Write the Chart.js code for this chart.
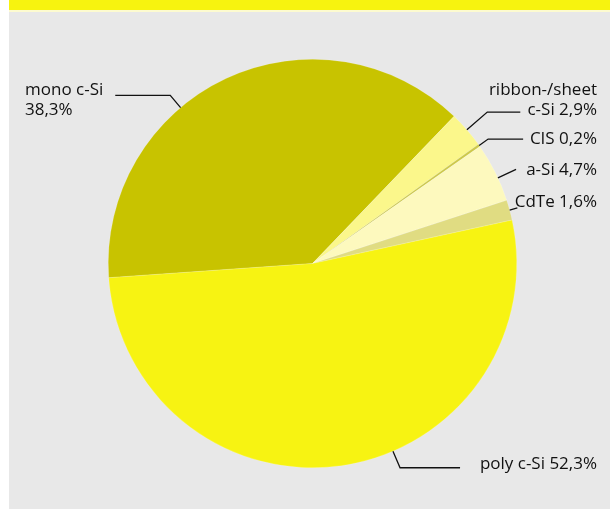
<!DOCTYPE html>
<html>
<head>
<meta charset="utf-8">
<script src="https://cdn.jsdelivr.net/npm/chart.js"></script>
<style>
  body { margin: 0; background: #ffffff; }
  #wrap { position: relative; width: 610px; height: 509px; overflow: hidden; }
  #band { position: absolute; left: 9px; top: 0; width: 601px; height: 10px; background: #f7f30f; }
  #stripe { position: absolute; left: 9px; top: 10px; width: 601px; height: 2px; background: #fdfbd0; }
  #panel { position: absolute; left: 9px; top: 12px; width: 601px; height: 497px; background: #e8e8e8; }
  #chart { position: absolute; left: 0; top: 0; }
</style>
</head>
<body>
<div id="wrap">
  <div id="band"></div>
  <div id="stripe"></div>
  <div id="panel"></div>
  <canvas id="chart" width="610" height="509"></canvas>
</div>
<script>
// Marktanteile Solarzellen-Technologien (Prozent)
const technologies = ["mono c-Si", "ribbon-/sheet c-Si", "CIS", "a-Si", "CdTe", "poly c-Si"];
const shares = [38.3, 2.9, 0.2, 4.7, 1.6, 52.3];
const shareLabels = ["38,3%", "2,9%", "0,2%", "4,7%", "1,6%", "52,3%"];
const sliceColors = ["#c8c300", "#fbf78b", "#cdc94a", "#fdf9be", "#e0dc82", "#f7f312"];

// label layout: text lines, anchor fraction along slice, radial leader length,
// horizontal leader length (signed), text x, first baseline, alignment
const labelLayout = [
  { lines: ["mono c-Si", "38,3%"], frac: 0.39, radial: 16, horiz: -55, x: 25, y: 95, align: "left" },
  { lines: ["ribbon-/sheet", "c-Si 2,9%"], frac: 0.5, radial: 27, horiz: 33, x: 597, y: 95, align: "right" },
  { lines: ["CIS 0,2%"], frac: 0.5, radial: 11, horiz: 35, x: 597, y: 144, align: "right" },
  { lines: ["a-Si 4,7%"], frac: 0.6, radial: 20, horiz: 0, x: 597, y: 175, align: "right" },
  { lines: ["CdTe 1,6%"], frac: 0.5, radial: 8, horiz: 0, x: 597, y: 207, align: "right" },
  { lines: ["poly c-Si 52,3%"], frac: 0.42, radial: 18, horiz: 60, x: 597, y: 469, align: "right" },
];

const leaderPlugin = {
  id: "leaders",
  afterDraw(chart) {
    const ctx = chart.ctx;
    const meta = chart.getDatasetMeta(0);
    ctx.save();
    meta.data.forEach((arc, i) => {
      const lay = labelLayout[i];
      const a = arc.startAngle + (arc.endAngle - arc.startAngle) * lay.frac;
      const r = arc.outerRadius;
      const x0 = arc.x + Math.cos(a) * r;
      const y0 = arc.y + Math.sin(a) * r;
      const x1 = arc.x + Math.cos(a) * (r + lay.radial);
      const y1 = arc.y + Math.sin(a) * (r + lay.radial);
      ctx.strokeStyle = "#111111";
      ctx.lineWidth = 1.3;
      ctx.beginPath();
      ctx.moveTo(x0, y0);
      ctx.lineTo(x1, y1);
      if (lay.horiz !== 0) ctx.lineTo(x1 + lay.horiz, y1);
      ctx.stroke();

      ctx.fillStyle = "#111111";
      ctx.font = "500 17px 'Open Sans'";
      ctx.textAlign = lay.align;
      ctx.textBaseline = "alphabetic";
      lay.lines.forEach((line, j) => {
        ctx.fillText(line, lay.x, lay.y + j * 20);
      });
    });
    ctx.restore();
  },
};

new Chart(document.getElementById("chart"), {
  type: "pie",
  data: {
    labels: technologies,
    datasets: [
      {
        data: shares,
        backgroundColor: sliceColors,
        borderWidth: 0.5,
        borderColor: "rgba(255,255,255,0.35)",
      },
    ],
  },
  options: {
    responsive: false,
    animation: false,
    rotation: 266,
    layout: { padding: { left: 108, right: 93, top: 59, bottom: 41 } },
    plugins: {
      legend: { display: false },
      tooltip: { enabled: false },
    },
  },
  plugins: [leaderPlugin],
});
</script>
</body>
</html>
